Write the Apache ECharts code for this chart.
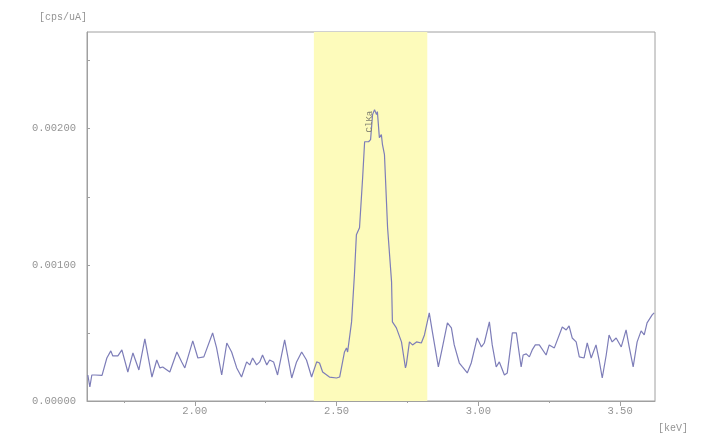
<!DOCTYPE html>
<html>
<head>
<meta charset="utf-8">
<title>spectrum</title>
<script src="https://cdn.jsdelivr.net/npm/echarts@6/dist/echarts.min.js"></script>
<style>
    html, body { margin: 0; padding: 0; background: #fff; }
    #main { width: 705px; height: 434px; }
</style>
</head>
<body>
<div id="main"></div>
<script>
// 能量 keV
var energy = [1.623, 1.630, 1.637, 1.648, 1.673, 1.690, 1.704, 1.711, 1.729, 1.743,
    1.764, 1.782, 1.789, 1.803, 1.824, 1.849, 1.866, 1.877, 1.887, 1.894,
    1.912, 1.937, 1.954, 1.965, 1.993, 2.011, 2.032, 2.063, 2.077, 2.095,
    2.113, 2.130, 2.148, 2.165, 2.183, 2.194, 2.204, 2.218, 2.229, 2.239,
    2.254, 2.264, 2.278, 2.292, 2.317, 2.327, 2.342, 2.359, 2.377, 2.394,
    2.412, 2.430, 2.440, 2.451, 2.475, 2.500, 2.511, 2.528, 2.535, 2.539,
    2.553, 2.563, 2.570, 2.581, 2.592, 2.599, 2.606, 2.613, 2.620, 2.627,
    2.634, 2.641, 2.644, 2.651, 2.658, 2.662, 2.669, 2.680, 2.694, 2.697,
    2.711, 2.729, 2.736, 2.743, 2.746, 2.757, 2.768, 2.782, 2.799, 2.810,
    2.827, 2.838, 2.859, 2.873, 2.891, 2.905, 2.915, 2.933, 2.944, 2.961,
    2.975, 2.996, 3.011, 3.021, 3.039, 3.049, 3.063, 3.074, 3.092, 3.102,
    3.120, 3.134, 3.151, 3.158, 3.169, 3.180, 3.190, 3.201, 3.215, 3.239,
    3.250, 3.268, 3.296, 3.310, 3.320, 3.331, 3.345, 3.356, 3.373, 3.384,
    3.398, 3.415, 3.426, 3.437, 3.451, 3.461, 3.472, 3.486, 3.504, 3.521,
    3.532, 3.546, 3.560, 3.574, 3.585, 3.595, 3.613, 3.620];
// 强度 cps/uA
var cps = [0.000191, 0.000103, 0.000191, 0.000191, 0.000188, 0.000316, 0.000368, 0.000331, 0.000331, 0.000375,
    0.000213, 0.000353, 0.000353, 0.000228, 0.000456, 0.000176, 0.000301, 0.000243, 0.000250, 0.000243,
    0.000213, 0.000360, 0.000287, 0.000243, 0.000441, 0.000316, 0.000324, 0.000500, 0.000390, 0.000191,
    0.000426, 0.000360, 0.000243, 0.000176, 0.000287, 0.000265, 0.000316, 0.000265, 0.000287, 0.000338,
    0.000265, 0.000301, 0.000287, 0.000191, 0.000449, 0.000338, 0.000169, 0.000287, 0.000360, 0.000301,
    0.000176, 0.000287, 0.000279, 0.000213, 0.000176, 0.000169, 0.000176, 0.000360, 0.000390, 0.000360,
    0.000581, 0.000926, 0.001221, 0.001272, 0.001640, 0.001904, 0.001904, 0.001904, 0.001919, 0.002103,
    0.002140, 0.002103, 0.002125, 0.001934, 0.001956, 0.001882, 0.001809, 0.001272, 0.000875, 0.000581,
    0.000537, 0.000434, 0.000338, 0.000243, 0.000265, 0.000434, 0.000412, 0.000434, 0.000426, 0.000485,
    0.000647, 0.000507, 0.000250, 0.000390, 0.000574, 0.000537, 0.000412, 0.000279, 0.000250, 0.000206,
    0.000279, 0.000463, 0.000397, 0.000426, 0.000581, 0.000412, 0.000250, 0.000287, 0.000191, 0.000206,
    0.000500, 0.000500, 0.000250, 0.000338, 0.000346, 0.000324, 0.000375, 0.000412, 0.000412, 0.000338,
    0.000412, 0.000390, 0.000544, 0.000522, 0.000551, 0.000463, 0.000434, 0.000324, 0.000316, 0.000426,
    0.000316, 0.000412, 0.000301, 0.000169, 0.000338, 0.000485, 0.000434, 0.000463, 0.000397, 0.000522,
    0.000397, 0.000250, 0.000434, 0.000515, 0.000485, 0.000574, 0.000632, 0.000647];

// 刻度
var xLabelValues = [2.0, 2.5, 3.0, 3.5];
var xMinorValues = [1.75, 2.25, 2.75, 3.25];
var yLabelValues = [0, 0.001, 0.002];
var yTickValues = [0, 0.0005, 0.001, 0.0015, 0.002, 0.0025];
// 高亮区域 (ROI)
var roiRange = [2.42, 2.82];
var peakName = 'ClKa';
var peakPos = [2.634, 0.00214];

var monoFont = '"Liberation Mono", "DejaVu Sans Mono", monospace';
var textGray = '#949494';
var axisGray = '#a0a0a0';

var myChart = echarts.init(document.getElementById('main'));

var lineData = [];
for (var i = 0; i < energy.length; i++) {
    lineData.push([energy[i], cps[i]]);
}

var option = {
    backgroundColor: '#fff',
    animation: false,
    grid: {
        left: 87,
        right: 50,
        top: 32,
        bottom: 33,
        show: true,
        borderColor: axisGray,
        borderWidth: 1
    },
    xAxis: [{
        type: 'value',
        min: 1.62,
        max: 3.623,
        name: '[keV]',
        nameLocation: 'end',
        nameGap: 3,
        nameTextStyle: {
            color: textGray,
            fontFamily: monoFont,
            fontSize: 10,
            align: 'left',
            verticalAlign: 'top',
            padding: [22, 0, 0, 0]
        },
        axisLine: { lineStyle: { color: axisGray, width: 1 } },
        axisTick: {
            customValues: xLabelValues,
            length: 5,
            lineStyle: { color: axisGray }
        },
        axisLabel: {
            customValues: xLabelValues,
            color: textGray,
            fontFamily: monoFont,
            fontSize: 10.5,
            margin: 5,
            formatter: function (v) { return v.toFixed(2); }
        },
        splitLine: { show: false }
    }, {
        // 次刻度
        type: 'value',
        min: 1.62,
        max: 3.623,
        position: 'bottom',
        axisLine: { show: false },
        axisTick: {
            customValues: xMinorValues,
            length: 2,
            lineStyle: { color: axisGray }
        },
        axisLabel: { show: false },
        splitLine: { show: false }
    }],
    yAxis: {
        type: 'value',
        min: 0,
        max: 0.00271,
        name: '[cps/uA]',
        nameLocation: 'end',
        nameGap: 15,
        nameTextStyle: {
            color: textGray,
            fontFamily: monoFont,
            fontSize: 10,
            align: 'right',
            verticalAlign: 'middle'
        },
        axisLine: { show: true, lineStyle: { color: axisGray, width: 1 } },
        axisTick: {
            customValues: yTickValues,
            inside: true,
            length: 3,
            lineStyle: { color: axisGray }
        },
        axisLabel: {
            customValues: yLabelValues,
            color: textGray,
            fontFamily: monoFont,
            fontSize: 10.5,
            margin: 11,
            formatter: function (v) { return v.toFixed(5); }
        },
        splitLine: { show: false }
    },
    series: [{
        type: 'line',
        data: lineData,
        showSymbol: false,
        symbol: 'none',
        lineStyle: { color: '#7d7db8', width: 1.2 },
        markArea: {
            silent: true,
            itemStyle: { color: '#fdfbbb' },
            data: [[{ xAxis: roiRange[0] }, { xAxis: roiRange[1] }]]
        },
        markPoint: {
            silent: true,
            symbol: 'circle',
            symbolSize: 1,
            itemStyle: { color: 'transparent' },
            label: {
                show: true,
                formatter: peakName,
                rotate: 90,
                color: '#808070',
                fontFamily: monoFont,
                fontSize: 9,
                offset: [-12, -5]
            },
            data: [{ coord: peakPos }]
        }
    }]
};

myChart.setOption(option);
</script>
</body>
</html>
